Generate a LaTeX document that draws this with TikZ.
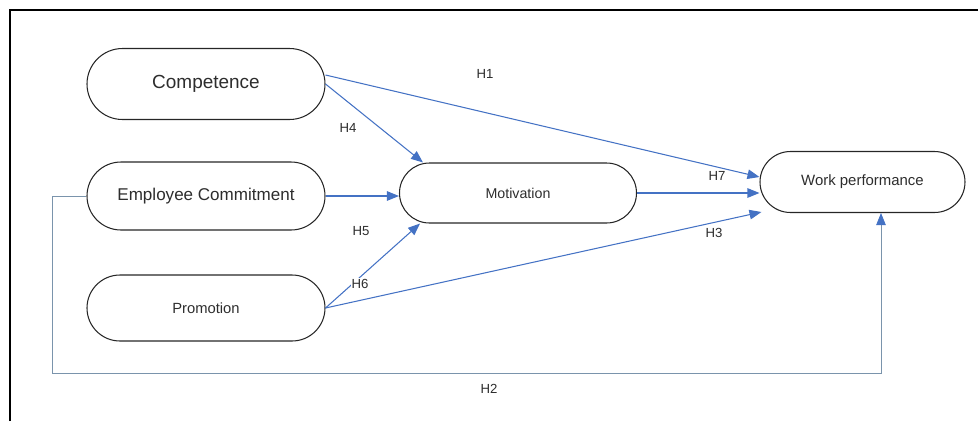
\documentclass[tikz,border=0pt]{standalone}
\usepackage{fontspec}
\setmainfont{Liberation Sans}
\usepackage{xcolor}
\usepackage{tikz}
\usetikzlibrary{shapes.misc, arrows.meta}
\definecolor{linkblue}{RGB}{68,114,196}
\definecolor{loopgray}{RGB}{122,148,172}
\definecolor{txtgray}{RGB}{45,45,45}

\begin{document}
\begin{tikzpicture}[every node/.style={text=txtgray},
    var/.style={rounded rectangle, draw=black!85, line width=0.6pt, minimum width=4.76cm, inner sep=0pt},
    link/.style={draw=linkblue, line width=0.6pt, -{Triangle[length=2.4mm,width=1.9mm]}},
    hyp/.style={fill=white, inner sep=0.6pt, font=\fontsize{7.5}{9}\selectfont}]

    \useasboundingbox (0,0) rectangle (19.56,-8.42);

    % Cornice
    \draw[line width=1.1pt] (0.2,-8.42) -- (0.2,-0.2) -- (19.56,-0.2);

    % Variabili
    \node[var, minimum height=1.42cm, font=\fontsize{10.8}{12}\selectfont] (comp) at (4.12,-1.68) {Competence};
    \node[var, minimum height=1.36cm, font=\fontsize{9.7}{11}\selectfont] (emp) at (4.12,-3.92) {Employee Commitment};
    \node[var, minimum height=1.32cm, font=\fontsize{8.4}{10}\selectfont] (prom) at (4.12,-6.16) {Promotion};
    \node[var, minimum width=4.74cm, minimum height=1.2cm, font=\fontsize{8.1}{10}\selectfont] (mot) at (10.36,-3.86) {Motivation};
    \node[var, minimum width=4.1cm, minimum height=1.22cm, font=\fontsize{8.5}{10}\selectfont] (wp) at (17.25,-3.64) {Work performance};

    \coordinate (loop) at (17.62,-7.46);

    % Ipotesi
    \draw[link] ([yshift=0.18cm]comp.east) -- ([yshift=0.1cm]wp.west);
    \draw[link] (comp.east) -- ([xshift=-1.9cm]mot.north);
    \draw[link] (emp.east) -- (emp.east -| mot.west);
    \draw[link] (prom.east) -- ([xshift=-1.96cm]mot.south);
    \draw[link] (prom.east) -- ([xshift=0.04cm,yshift=-0.6cm]wp.west);
    \draw[link] (mot.east) -- (mot.east -| wp.west);
    \draw[link, draw=loopgray, line width=0.45pt, -{Triangle[length=2.4mm,width=1.9mm,color=linkblue]}]
        (emp.west) -- ++(-0.68,0) |- (loop) -- (loop |- wp.south);

    \node[hyp] (h1) at (9.7,-1.48) {H1};
    \node[hyp] (h4) at (6.96,-2.56) {H4};
    \node[hyp] (h5) at (7.22,-4.62) {H5};
    \node[hyp] (h6) at (7.2,-5.68) {H6};
    \node[hyp] (h7) at (14.34,-3.52) {H7};
    \node[hyp] (h3) at (14.28,-4.66) {H3};
    \node[hyp] (h2) at (9.78,-7.78) {H2};
\end{tikzpicture}
\end{document}
